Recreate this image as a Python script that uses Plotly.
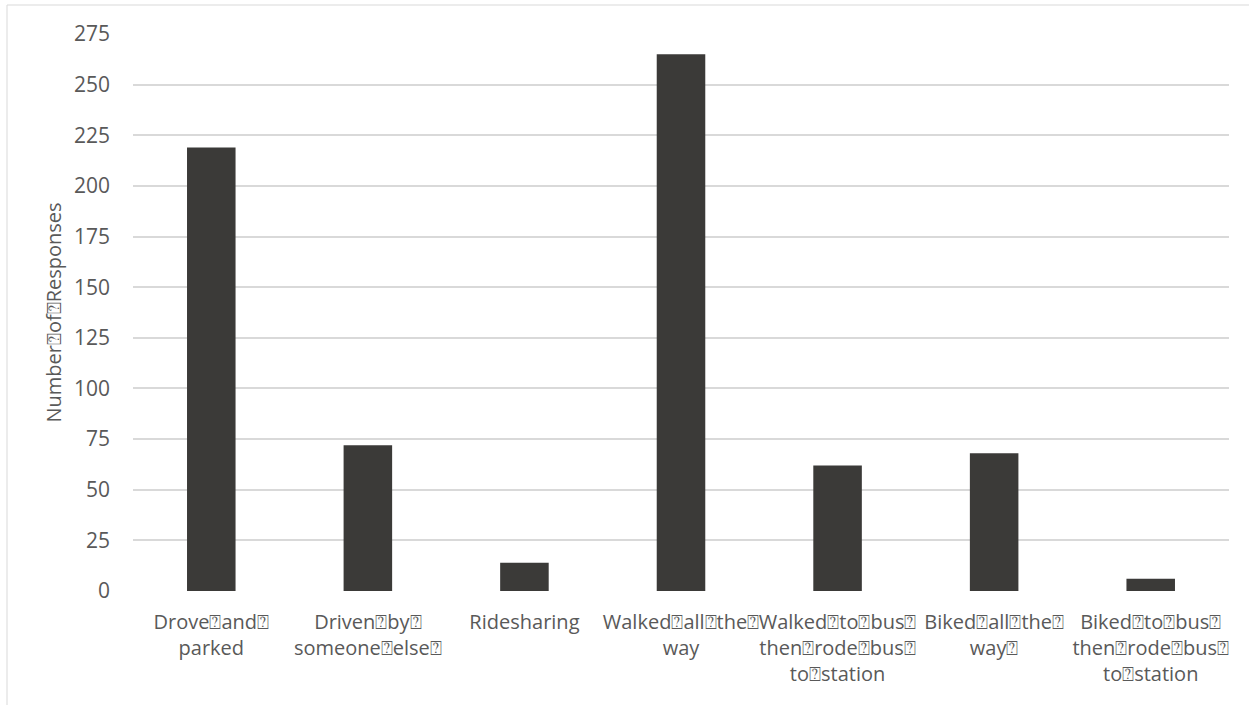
import plotly.graph_objects as go

Q = "\u2370"
categories = [
    f"Drove{Q}and{Q}<br>parked",
    f"Driven{Q}by{Q}<br>someone{Q}else{Q}",
    "Ridesharing",
    f"Walked{Q}all{Q}the{Q}<br>way",
    f"Walked{Q}to{Q}bus{Q}<br>then{Q}rode{Q}bus{Q}<br>to{Q}station",
    f"Biked{Q}all{Q}the{Q}<br>way{Q}",
    f"Biked{Q}to{Q}bus{Q}<br>then{Q}rode{Q}bus{Q}<br>to{Q}station",
]
responses = [219, 72, 14, 265, 62, 68, 6]
y_ticks = [0, 25, 50, 75, 100, 125, 150, 175, 200, 225, 250, 275]
y_title = f"Number{Q}of{Q}Responses"

FONT = "Open Sans"
TXT = "#595959"
FS = 21
FSX = 20

fig = go.Figure(go.Bar(x=categories, y=responses, marker=dict(color="#3b3a38", line=dict(width=0)),
                       hoverinfo="x+y"))

L, R, T, B = 133, 20, 34, 114
W, H = 1249, 705
pw, ph = W - L - R, H - T - B

fig.update_layout(
    width=W, height=H, autosize=False,
    margin=dict(l=L, r=R, t=T, b=B, pad=0),
    paper_bgcolor="white", plot_bgcolor="white",
    bargap=0.69, showlegend=False,
    font=dict(family=FONT, size=FS, color=TXT),
)
fig.update_xaxes(showgrid=False, zeroline=False, showline=False, ticks="", tickangle=0,
                 tickfont=dict(family=FONT, size=FSX, color=TXT), ticklabelstandoff=17,
                 automargin=False)
fig.update_yaxes(range=[0, 275], tickvals=y_ticks, showgrid=True, gridcolor="#d9d9d9", gridwidth=1.5,
                 zeroline=False, showline=False, ticks="",
                 tickfont=dict(family=FONT, size=FS, color=TXT), ticklabelstandoff=22,
                 title=dict(text=y_title, font=dict(family=FONT, size=FS - 1, color=TXT), standoff=6),
                 automargin=False)

# outer chart border
x0 = (7 - L) / pw
x1 = (W + 5 - L) / pw
y1 = (H - B - 5) / ph
y0 = (H - B - (H + 5)) / ph
fig.add_shape(type="rect", xref="paper", yref="paper", x0=x0, x1=x1, y0=y0, y1=y1,
              line=dict(color="#d9d9d9", width=1), fillcolor="rgba(0,0,0,0)", layer="below")

fig.write_html("out.html")
